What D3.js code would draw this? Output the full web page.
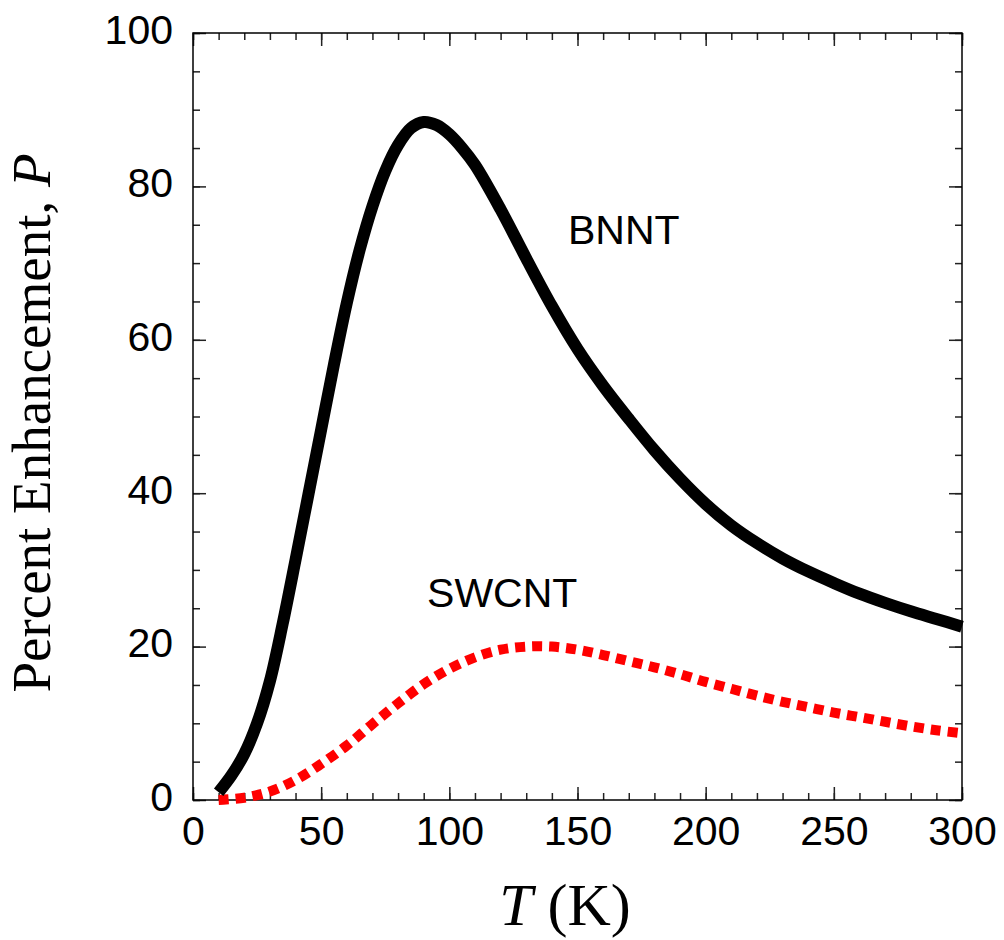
<!DOCTYPE html>
<html>
<head>
<meta charset="utf-8">
<script src="https://cdn.jsdelivr.net/npm/d3@7"></script>
<style>
  body { margin: 0; background: #fff; }
</style>
</head>
<body>
<script>
var width = 1004,
    height = 940;

var margin = {top: 33, right: 42, bottom: 140, left: 193};

// BNNT curve
var bnntT = [10, 15, 20, 25, 30, 35, 40, 45, 50, 55, 60, 65, 70, 75, 80, 85, 90, 95, 100,
             105, 110, 120, 130, 140, 150, 160, 170, 180, 190, 200, 210, 220, 230, 240, 250,
             260, 270, 280, 290, 300];
var bnntP = [1.0, 3.2, 6.0, 10.0, 15.5, 23.0, 31.3, 39.8, 48.3, 56.8, 64.8, 71.7, 77.4, 82.0, 85.4, 87.6, 88.4, 88.0, 86.8,
             85.0, 82.8, 77.0, 70.6, 64.4, 58.8, 54.0, 49.7, 45.6, 41.9, 38.6, 35.8, 33.5, 31.5, 29.8, 28.3,
             26.9, 25.7, 24.6, 23.6, 22.6];

// SWCNT curve
var swcntT = [10, 20, 30, 40, 50, 60, 70, 80, 90, 100, 110, 120, 130, 140, 150,
              160, 170, 180, 190, 200, 210, 220, 230, 240, 250, 260, 270, 280, 290, 300];
var swcntP = [0, 0.3, 1.1, 2.6, 4.7, 7.1, 9.9, 12.6, 15.1, 17.1, 18.6, 19.6, 20.0, 20.0, 19.6,
              18.9, 18.1, 17.3, 16.4, 15.4, 14.5, 13.6, 12.8, 12.1, 11.4, 10.8, 10.2, 9.6, 9.1, 8.7];

var xTicks = [0, 50, 100, 150, 200, 250, 300],
    xMinor = d3.range(0, 301, 10),
    yTicks = [0, 20, 40, 60, 80, 100],
    yMinor = d3.range(0, 101, 5);

// curve labels, placed in data coordinates
var labels = [
  {text: "BNNT", t: 146.3, p: 72.5},
  {text: "SWCNT", t: 91.3, p: 25.2}
];

var svg = d3.select("body")
    .append("svg")
    .attr("width", width)
    .attr("height", height);

var w = width - margin.left - margin.right,
    h = height - margin.top - margin.bottom;

var x = d3.scaleLinear().domain([0, 300]).range([0, w]),
    y = d3.scaleLinear().domain([0, 100]).range([h, 0]);

var g = svg.append("g")
    .attr("transform", "translate(" + margin.left + "," + margin.top + ")");

function styleTicks(sel) {
  sel.select(".domain").remove();
  sel.selectAll(".tick line").attr("stroke", "#222").attr("stroke-width", 1.5);
}

// minor ticks on all four sides
g.append("g").attr("transform", "translate(0," + h + ")")
  .call(d3.axisBottom(x).tickValues(xMinor).tickSize(-7).tickFormat(""))
  .call(styleTicks);
g.append("g")
  .call(d3.axisTop(x).tickValues(xMinor).tickSize(-7).tickFormat(""))
  .call(styleTicks);
g.append("g")
  .call(d3.axisLeft(y).tickValues(yMinor).tickSize(-7).tickFormat(""))
  .call(styleTicks);
g.append("g").attr("transform", "translate(" + w + ",0)")
  .call(d3.axisRight(y).tickValues(yMinor).tickSize(-7).tickFormat(""))
  .call(styleTicks);

// major ticks
var xAxis = g.append("g").attr("transform", "translate(0," + h + ")")
  .call(d3.axisBottom(x).tickValues(xTicks).tickSize(-13).tickPadding(16))
  .call(styleTicks);
g.append("g")
  .call(d3.axisTop(x).tickValues(xTicks).tickSize(-13).tickFormat(""))
  .call(styleTicks);
var yAxis = g.append("g")
  .call(d3.axisLeft(y).tickValues(yTicks).tickSize(-13).tickPadding(20))
  .call(styleTicks);
g.append("g").attr("transform", "translate(" + w + ",0)")
  .call(d3.axisRight(y).tickValues(yTicks).tickSize(-13).tickFormat(""))
  .call(styleTicks);

xAxis.selectAll("text")
  .attr("y", 16)
  .attr("dy", "0.71em")
  .attr("fill", "#000")
  .style("font-family", "'Liberation Sans', Arial, sans-serif")
  .style("font-size", "41px");

yAxis.selectAll("text")
  .attr("x", -20)
  .attr("dy", "0.25em")
  .attr("fill", "#000")
  .style("font-family", "'Liberation Sans', Arial, sans-serif")
  .style("font-size", "41px");

// plot frame
g.append("rect")
  .attr("width", w)
  .attr("height", h)
  .attr("fill", "none")
  .attr("stroke", "#000")
  .attr("stroke-width", 1.5);

var line = d3.line()
  .x(function(d) { return x(d[0]); })
  .y(function(d) { return y(d[1]); })
  .curve(d3.curveCatmullRom.alpha(0.5));

g.append("path")
  .datum(d3.zip(swcntT, swcntP))
  .attr("d", line)
  .attr("fill", "none")
  .attr("stroke", "#ff0000")
  .attr("stroke-width", 10)
  .attr("stroke-dasharray", "10,7");

g.append("path")
  .datum(d3.zip(bnntT, bnntP))
  .attr("d", line)
  .attr("fill", "none")
  .attr("stroke", "#000")
  .attr("stroke-width", 12)
  .attr("stroke-linejoin", "round");

g.selectAll(".lbl")
  .data(labels)
  .enter().append("text")
  .attr("class", "lbl")
  .attr("x", function(d) { return x(d.t); })
  .attr("y", function(d) { return y(d.p); })
  .style("font-family", "'Liberation Sans', Arial, sans-serif")
  .style("font-size", "41px")
  .text(function(d) { return d.text; });

// axis titles
var yTitle = svg.append("text")
  .attr("transform", "translate(50,423) rotate(-90)")
  .attr("text-anchor", "middle")
  .style("font-family", "'Liberation Serif', 'Times New Roman', serif")
  .style("font-size", "55px");
yTitle.append("tspan").text("Percent Enhancement, ");
yTitle.append("tspan").style("font-style", "italic").text("P");

var xTitle = svg.append("text")
  .attr("x", 565)
  .attr("y", 925)
  .attr("text-anchor", "middle")
  .style("font-family", "'Liberation Serif', 'Times New Roman', serif")
  .style("font-size", "60px");
xTitle.append("tspan").style("font-style", "italic").text("T");
xTitle.append("tspan").text(" (K)");
</script>
</body>
</html>
